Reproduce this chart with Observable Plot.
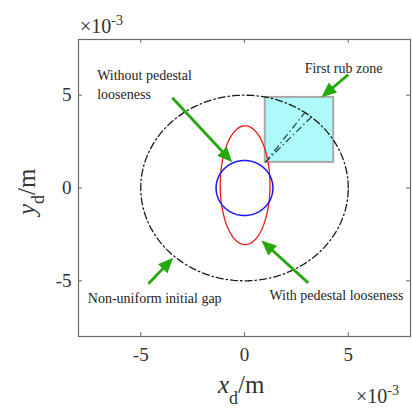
<!DOCTYPE html>
<html>
<head>
<meta charset="utf-8">
<script src="https://cdn.jsdelivr.net/npm/d3@7"></script>
<script src="https://cdn.jsdelivr.net/npm/@observablehq/plot@0.6"></script>
<style>
  body { margin: 0; background: #fff; }
  svg { display: block; }
  svg text { font-family: 'Liberation Serif', 'Times New Roman', serif; }
</style>
</head>
<body>
<div id="chart"></div>
<script>
// Rotor orbit in the stator plane, coordinates in units of 1e-3 m
const xDomain = [-8, 8];
const yDomain = [-8, 8];
const xTicks = [-5, 0, 5];
const yTicks = [-5, 0, 5];

// Ellipse parameters: [centre x, centre y, radius x, radius y]
const gapBoundary = [0, 0, 5, 5];          // non-uniform initial gap
const orbitWithout = [0, 0, 1.37, 1.48];   // without pedestal looseness
const orbitWith = [0.03, 0.15, 1.2, 3.2];  // with pedestal looseness

// First rub zone box
const rubZoneX = [1.0, 4.3];
const rubZoneY = [1.38, 4.88];
// Dash-dot rays from the box corner out to the gap boundary
const rayX1 = [1.0, 1.0];
const rayY1 = [1.38, 1.38];
const rayX2 = [2.9, 3.2];
const rayY2 = [4.05, 3.8];

// Annotations
const labelText = ["Without pedestal\nlooseness", "First rub zone", "Non-uniform initial gap", "With pedestal looseness"];
const labelX = [-7.1, 2.9, -7.55, 1.2];
const labelY = [5.63, 6.52, -5.86, -5.71];
const arrowX1 = [-3.48, 5.0, -4.63, 3.07];
const arrowY1 = [4.86, 6.11, -5.16, -5.11];
const arrowX2 = [-0.59, 3.71, -3.44, 0.82];
const arrowY2 = [1.39, 4.89, -3.76, -2.83];

const W = 413, H = 408;
const M = {top: 39, right: 3, bottom: 72, left: 78};
const serif = "'Liberation Serif', 'Times New Roman', serif";
const green = "#25a80a";
const headLen = 15, headHalf = 6.5;

const theta = d3.range(0, 361, 2).map(d => d * Math.PI / 180);
const outline = ([cx, cy, rx, ry]) => theta.map(t => ({x: cx + rx * Math.cos(t), y: cy + ry * Math.sin(t)}));

// pixels per data unit, used to orient the arrow heads
const kx = (W - M.left - M.right) / (xDomain[1] - xDomain[0]);
const ky = (H - M.top - M.bottom) / (yDomain[1] - yDomain[0]);

const arrows = arrowX1.map((x1, i) => {
  const y1 = arrowY1[i], x2 = arrowX2[i], y2 = arrowY2[i];
  const px = (x2 - x1) * kx, py = -(y2 - y1) * ky;
  const len = Math.hypot(px, py);
  const back = headLen * 0.7;
  return {
    x1, y1, x2, y2,
    sx: x2 - (px / len) * back / kx,
    sy: y2 + (py / len) * back / ky,
    angle: Math.atan2(px, -py) * 180 / Math.PI
  };
});

const labels = labelText.map((text, i) => ({text, x: labelX[i], y: labelY[i]}));
const rays = rayX1.map((x1, i) => ({x1, y1: rayY1[i], x2: rayX2[i], y2: rayY2[i]}));

const headShape = {
  draw(context, l, r) {
    context.moveTo(0, -l);
    context.lineTo(-r, 0);
    context.lineTo(r, 0);
    context.closePath();
  }
};

const dashDot = "7,3,1.5,3";
const innerW = W - M.left - M.right, innerH = H - M.top - M.bottom;

const svg = Plot.plot({
  width: W,
  height: H,
  marginTop: M.top,
  marginRight: M.right,
  marginBottom: M.bottom,
  marginLeft: M.left,
  style: `font-family: ${serif}; background: #fff; color: #333;`,
  x: {domain: xDomain, label: null},
  y: {domain: yDomain, label: null},
  marks: [
    Plot.rect([{x1: rubZoneX[0], x2: rubZoneX[1], y1: rubZoneY[0], y2: rubZoneY[1]}],
      {x1: "x1", x2: "x2", y1: "y1", y2: "y2", fill: "#aefafa", stroke: "#a9a9a9", strokeWidth: 2}),
    Plot.line(outline(gapBoundary), {x: "x", y: "y", stroke: "#1a1a1a", strokeWidth: 1.3, strokeDasharray: dashDot}),
    Plot.link(rays, {x1: "x1", y1: "y1", x2: "x2", y2: "y2", stroke: "#2b4a4a", strokeWidth: 1.3, strokeDasharray: dashDot}),
    Plot.line(outline(orbitWith), {x: "x", y: "y", stroke: "#f01818", strokeWidth: 1.3}),
    Plot.line(outline(orbitWithout), {x: "x", y: "y", stroke: "#1818f0", strokeWidth: 1.5}),
    Plot.link(arrows, {x1: "x1", y1: "y1", x2: "sx", y2: "sy", stroke: green, strokeWidth: 2.8}),
    Plot.vector(arrows, {x: "x2", y: "y2", rotate: "angle", length: headLen, r: headHalf, anchor: "end",
      shape: headShape, fill: green, stroke: "none"}),
    Plot.text(labels, {x: "x", y: "y", text: "text", textAnchor: "start", lineAnchor: "middle",
      fontSize: 14, lineHeight: 1.36, fill: "#1e1e1e", fontFamily: serif}),
    Plot.frame({stroke: "#6a6a6a", strokeWidth: 1.2}),
    // inward ticks on all four sides
    Plot.tickX(xTicks, {x: d => d, insetTop: innerH - 4, stroke: "#6a6a6a"}),
    Plot.tickX(xTicks, {x: d => d, insetBottom: innerH - 4, stroke: "#6a6a6a"}),
    Plot.tickY(yTicks, {y: d => d, insetRight: innerW - 4, stroke: "#6a6a6a"}),
    Plot.tickY(yTicks, {y: d => d, insetLeft: innerW - 4, stroke: "#6a6a6a"}),
    Plot.axisX({ticks: xTicks, tickSize: 0, tickPadding: 11, fontSize: 19, fontFamily: serif,
      tickFormat: d => String(d), fill: "#333", label: null}),
    Plot.axisY({ticks: yTicks, tickSize: 0, tickPadding: 7, fontSize: 19, fontFamily: serif,
      tickFormat: d => String(d), fill: "#333", label: null})
  ]
});

const s = d3.select(svg);
const textColor = "#333";

// x axis title: x_d/m
const xl = s.append("text").attr("x", 218).attr("y", 393).attr("font-size", 25)
  .attr("text-anchor", "start").attr("font-family", serif).attr("fill", textColor);
xl.append("tspan").attr("font-style", "italic").text("x");
xl.append("tspan").attr("font-size", 18).attr("dy", 11).text("d");
xl.append("tspan").attr("dy", -11).text("/m");

// y axis title: y_d/m
const yl = s.append("text").attr("transform", "translate(35,215) rotate(-90)").attr("font-size", 25)
  .attr("text-anchor", "start").attr("font-family", serif).attr("fill", textColor);
yl.append("tspan").attr("font-style", "italic").text("y");
yl.append("tspan").attr("font-size", 18).attr("dy", 9).text("d");
yl.append("tspan").attr("dy", -9).text("/m");

// exponent markers
function exponent(x, y) {
  const t = s.append("text").attr("x", x).attr("y", y).attr("font-size", 20)
    .attr("text-anchor", "start").attr("font-family", serif).attr("fill", textColor);
  t.append("tspan").text("\u00d710");
  t.append("tspan").attr("font-size", 14).attr("dy", -8).text("-3");
}
exponent(80, 33);
exponent(356, 403);

document.getElementById("chart").appendChild(svg);
</script>
</body>
</html>
